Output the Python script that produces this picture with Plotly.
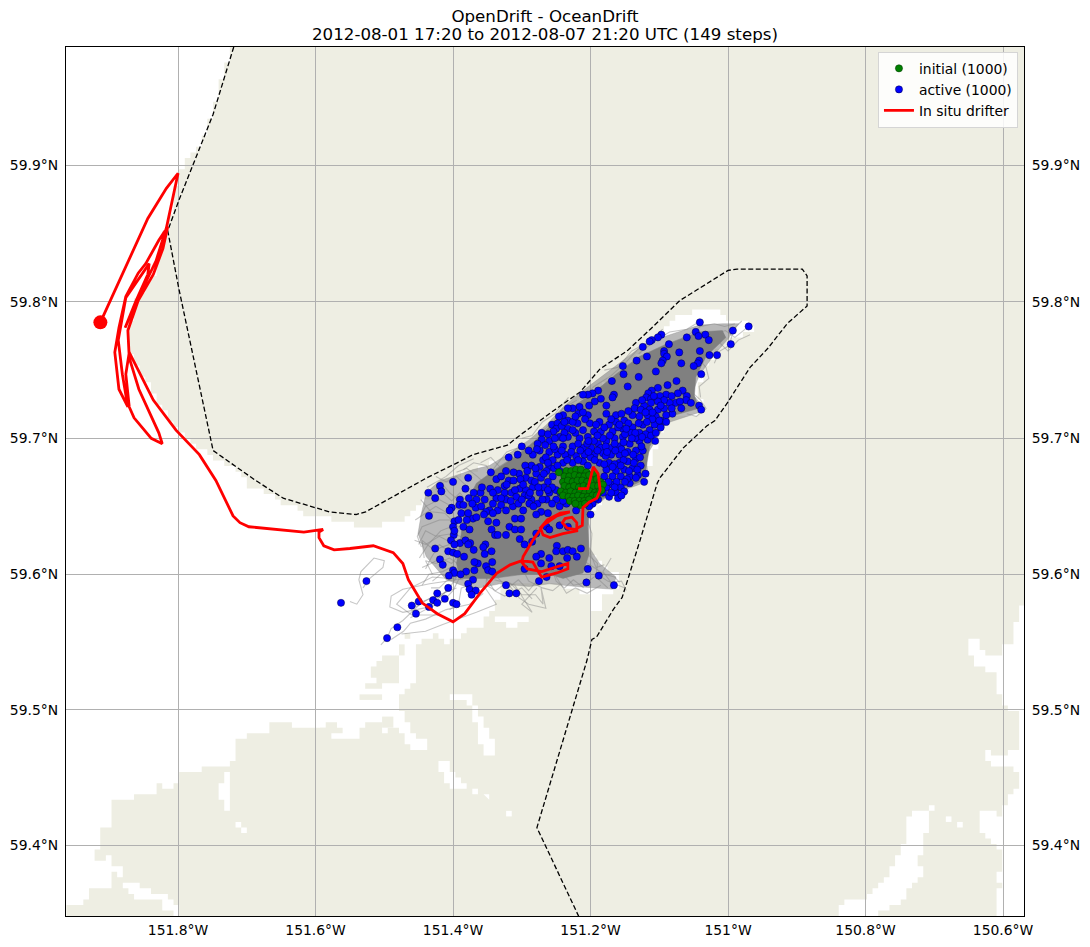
import math
import plotly.graph_objects as go

TITLE_LINE_1 = "OpenDrift - OceanDrift"
TITLE_LINE_2 = "2012-08-01 17:20 to 2012-08-07 21:20 UTC (149 steps)"
lon_ticks = [-151.8, -151.6, -151.4, -151.2, -151.0, -150.8, -150.6]
lon_labels = ["151.8°W", "151.6°W", "151.4°W", "151.2°W", "151°W", "150.8°W", "150.6°W"]
lat_ticks = [59.4, 59.5, 59.6, 59.7, 59.8, 59.9]
lat_labels = ["59.4°N", "59.5°N", "59.6°N", "59.7°N", "59.8°N", "59.9°N"]
lon_range = [-151.963, -150.5695]
lat_range = [59.3475, 59.986]

land_outline = [(-151.721,59.986),(-151.746,59.943),(-151.762,59.918),(-151.788,59.900),(-151.799,59.894),(-151.807,59.869),(-151.817,59.852),(-151.835,59.820),(-151.858,59.801),(-151.873,59.779),(-151.871,59.762),(-151.835,59.728),(-151.800,59.704),(-151.771,59.693),(-151.759,59.689),(-151.748,59.684),(-151.726,59.679),(-151.705,59.671),(-151.697,59.664),(-151.672,59.660),(-151.647,59.652),(-151.618,59.647),(-151.618,59.642),(-151.575,59.642),(-151.573,59.638),(-151.544,59.638),(-151.544,59.634),(-151.527,59.634),(-151.496,59.638),(-151.467,59.642),(-151.452,59.649),(-151.438,59.657),(-151.415,59.668),(-151.385,59.674),(-151.346,59.682),(-151.321,59.686),(-151.278,59.699),(-151.240,59.718),(-151.201,59.735),(-151.161,59.750),(-151.124,59.764),(-151.113,59.773),(-151.089,59.784),(-151.065,59.791),(-151.048,59.795),(-151.019,59.795),(-151.007,59.788),(-150.994,59.786),(-150.968,59.786),(-150.965,59.779),(-150.978,59.774),(-151.007,59.772),(-151.022,59.759),(-151.036,59.745),(-151.045,59.733),(-151.033,59.719),(-151.089,59.715),(-151.103,59.693),(-151.116,59.674),(-151.124,59.667),(-151.172,59.657),(-151.198,59.645),(-151.202,59.620),(-151.189,59.608),(-151.161,59.597),(-151.161,59.588),(-151.186,59.583),(-151.186,59.574),(-151.196,59.568),(-151.201,59.586),(-151.244,59.594),(-151.336,59.593),(-151.332,59.581),(-151.348,59.568),(-151.356,59.560),(-151.377,59.560),(-151.396,59.551),(-151.406,59.547),(-151.421,59.556),(-151.440,59.551),(-151.457,59.542),(-151.452,59.525),(-151.469,59.513),(-151.476,59.510),(-151.477,59.499),(-151.455,59.480),(-151.440,59.476),(-151.440,59.472),(-151.452,59.472),(-151.467,59.480),(-151.479,59.485),(-151.491,59.485),(-151.491,59.481),(-151.501,59.481),(-151.501,59.489),(-151.515,59.489),(-151.515,59.493),(-151.527,59.493),(-151.536,59.477),(-151.576,59.477),(-151.577,59.485),(-151.590,59.485),(-151.624,59.485),(-151.637,59.488),(-151.638,59.493),(-151.656,59.493),(-151.671,59.482),(-151.690,59.481),(-151.715,59.476),(-151.715,59.464),(-151.726,59.459),(-151.738,59.458),(-151.752,59.459),(-151.763,59.456),(-151.770,59.451),(-151.787,59.456),(-151.799,59.451),(-151.804,59.443),(-151.818,59.443),(-151.821,59.447),(-151.832,59.447),(-151.835,59.439),(-151.851,59.438),(-151.874,59.434),(-151.894,59.431),(-151.894,59.414),(-151.912,59.410),(-151.913,59.398),(-151.923,59.397),(-151.923,59.389),(-151.901,59.392),(-151.898,59.385),(-151.879,59.384),(-151.878,59.377),(-151.894,59.380),(-151.894,59.368),(-151.928,59.368),(-151.932,59.358),(-151.964,59.356),(-151.964,59.347),(-150.835,59.347),(-150.837,59.356),(-150.832,59.359),(-150.798,59.359),(-150.798,59.364),(-150.784,59.372),(-150.764,59.377),(-150.762,59.385),(-150.747,59.398),(-150.743,59.409),(-150.738,59.422),(-150.731,59.427),(-150.709,59.427),(-150.706,59.431),(-150.701,59.430),(-150.704,59.424),(-150.709,59.420),(-150.705,59.411),(-150.714,59.409),(-150.714,59.393),(-150.723,59.392),(-150.723,59.385),(-150.711,59.384),(-150.714,59.378),(-150.728,59.372),(-150.743,59.367),(-150.745,59.358),(-150.760,59.356),(-150.767,59.351),(-150.774,59.352),(-150.785,59.352),(-150.786,59.347),(-150.612,59.347),(-150.607,59.356),(-150.605,59.372),(-150.613,59.380),(-150.599,59.382),(-150.599,59.392),(-150.609,59.401),(-150.619,59.401),(-150.619,59.406),(-150.629,59.411),(-150.631,59.417),(-150.648,59.417),(-150.634,59.421),(-150.631,59.427),(-150.610,59.427),(-150.610,59.422),(-150.600,59.424),(-150.600,59.431),(-150.592,59.432),(-150.592,59.438),(-150.585,59.440),(-150.580,59.443),(-150.580,59.456),(-150.587,59.459),(-150.612,59.460),(-150.614,59.464),(-150.631,59.464),(-150.626,59.472),(-150.621,59.468),(-150.592,59.468),(-150.592,59.472),(-150.577,59.472),(-150.577,59.498),(-150.585,59.501),(-150.599,59.506),(-150.602,59.510),(-150.610,59.515),(-150.610,59.526),(-150.621,59.526),(-150.624,59.534),(-150.634,59.531),(-150.641,59.535),(-150.643,59.540),(-150.655,59.545),(-150.650,59.551),(-150.641,59.551),(-150.634,59.543),(-150.621,59.540),(-150.601,59.540),(-150.601,59.547),(-150.587,59.547),(-150.587,59.564),(-150.577,59.569),(-150.577,59.576),(-150.5695,59.577),(-150.5695,59.986)]

islands = [
 [(-151.520,59.530),(-151.503,59.540),(-151.479,59.540),(-151.476,59.521),(-151.506,59.520),(-151.506,59.514),(-151.527,59.518),(-151.513,59.524)],
 [(-151.538,59.513),(-151.501,59.513),(-151.501,59.506),(-151.538,59.506)],
 [(-151.501,59.497),(-151.486,59.497),(-151.486,59.488),(-151.501,59.488)],
 [(-151.581,59.493),(-151.566,59.493),(-151.566,59.488),(-151.557,59.488),(-151.557,59.481),(-151.577,59.481),(-151.590,59.485)],
 [(-151.474,59.557),(-151.464,59.557),(-151.464,59.552),(-151.474,59.552)],
 [(-151.481,59.547),(-151.469,59.547),(-151.469,59.540),(-151.481,59.540)],
]
inlets = [
 [(-151.726,59.459),(-151.734,59.447),(-151.741,59.438),(-151.741,59.432),(-151.731,59.427),(-151.724,59.422),(-151.724,59.434),(-151.729,59.443)],
 [(-151.715,59.418),(-151.707,59.418),(-151.702,59.410),(-151.715,59.414)],
 [(-151.878,59.372),(-151.861,59.372),(-151.843,59.364),(-151.818,59.362),(-151.804,59.357),(-151.799,59.348),(-151.804,59.348),(-151.804,59.353),(-151.818,59.353),(-151.821,59.358),(-151.843,59.359),(-151.869,59.364),(-151.879,59.369)],
 [(-151.430,59.513),(-151.389,59.513),(-151.372,59.509),(-151.365,59.498),(-151.343,59.476),(-151.343,59.468),(-151.353,59.468),(-151.365,59.488),(-151.372,59.503),(-151.387,59.509),(-151.430,59.510)],
 [(-151.428,59.464),(-151.406,59.464),(-151.396,59.448),(-151.377,59.447),(-151.377,59.443),(-151.406,59.443),(-151.409,59.451),(-151.421,59.458)],
 [(-151.372,59.443),(-151.360,59.443),(-151.360,59.439),(-151.372,59.439)],
 [(-151.353,59.438),(-151.341,59.432),(-151.348,59.434)],
 [(-151.319,59.426),(-151.315,59.426),(-151.315,59.422),(-151.319,59.422)],
 [(-151.336,59.568),(-151.287,59.568),(-151.287,59.564),(-151.304,59.564),(-151.305,59.561),(-151.319,59.561),(-151.319,59.564),(-151.336,59.564)],
 [(-150.683,59.422),(-150.673,59.422),(-150.673,59.418),(-150.683,59.418)],
 [(-150.664,59.418),(-150.655,59.418),(-150.655,59.414),(-150.664,59.414)],
]

simulation_boundary = [(-151.719,59.986),(-151.749,59.937),(-151.799,59.874),(-151.815,59.852),(-151.799,59.810),(-151.749,59.691),(-151.687,59.669),(-151.647,59.656),(-151.580,59.646),(-151.541,59.644),(-151.527,59.646),(-151.487,59.657),(-151.438,59.671),(-151.394,59.682),(-151.371,59.688),(-151.321,59.695),(-151.298,59.704),(-151.249,59.722),(-151.215,59.734),(-151.186,59.751),(-151.147,59.764),(-151.113,59.780),(-151.070,59.801),(-151.000,59.823),(-150.987,59.824),(-150.892,59.824),(-150.885,59.819),(-150.885,59.797),(-150.914,59.784),(-150.942,59.766),(-150.968,59.752),(-151.001,59.726),(-151.019,59.713),(-151.031,59.709),(-151.065,59.693),(-151.099,59.671),(-151.103,59.667),(-151.128,59.625),(-151.154,59.583),(-151.167,59.574),(-151.191,59.554),(-151.198,59.552),(-151.205,59.537),(-151.278,59.413),(-151.217,59.347)]

plume_fringe = [(-150.984,59.784),(-151.008,59.784),(-151.042,59.783),(-151.090,59.775),(-151.124,59.768),(-151.153,59.757),(-151.182,59.746),(-151.211,59.735),(-151.240,59.723),(-151.264,59.710),(-151.289,59.699),(-151.318,59.689),(-151.347,59.680),(-151.371,59.677),(-151.400,59.672),(-151.419,59.669),(-151.439,59.660),(-151.446,59.645),(-151.451,59.630),(-151.439,59.613),(-151.422,59.603),(-151.410,59.596),(-151.371,59.589),(-151.332,59.593),(-151.289,59.591),(-151.260,59.593),(-151.221,59.591),(-151.168,59.589),(-151.163,59.598),(-151.187,59.608),(-151.202,59.620),(-151.202,59.647),(-151.173,59.658),(-151.124,59.667),(-151.117,59.674),(-151.119,59.687),(-151.090,59.711),(-151.042,59.719),(-151.037,59.723),(-151.052,59.733),(-151.042,59.746),(-151.022,59.760),(-150.998,59.774)]

plume_core = [(-151.008,59.779),(-151.042,59.778),(-151.090,59.769),(-151.129,59.760),(-151.163,59.747),(-151.192,59.735),(-151.226,59.723),(-151.255,59.711),(-151.279,59.699),(-151.308,59.687),(-151.347,59.674),(-151.366,59.667),(-151.383,59.650),(-151.388,59.630),(-151.395,59.608),(-151.390,59.597),(-151.342,59.597),(-151.298,59.600),(-151.260,59.600),(-151.240,59.597),(-151.211,59.601),(-151.202,59.615),(-151.204,59.635),(-151.202,59.650),(-151.177,59.657),(-151.124,59.669),(-151.119,59.679),(-151.114,59.694),(-151.085,59.716),(-151.042,59.722),(-151.049,59.731),(-151.047,59.745),(-151.032,59.760),(-151.003,59.774)]

trails = [
 [(-151.550,59.580),(-151.540,59.578),(-151.531,59.585),(-151.537,59.596),(-151.534,59.602),(-151.515,59.612),(-151.500,59.610),(-151.502,59.605),(-151.521,59.597),(-151.531,59.590)],
 [(-151.395,59.596),(-151.434,59.593),(-151.473,59.589),(-151.490,59.584),(-151.492,59.576),(-151.473,59.572),(-151.434,59.576),(-151.405,59.590)],
 [(-151.395,59.590),(-151.444,59.580),(-151.473,59.566),(-151.490,59.560),(-151.496,59.553),(-151.505,59.548)],
 [(-151.356,59.586),(-151.376,59.578),(-151.410,59.574),(-151.440,59.567),(-151.462,59.564),(-151.472,59.558),(-151.490,59.552)],
 [(-151.356,59.592),(-151.337,59.578),(-151.366,59.572),(-151.400,59.566),(-151.415,59.563),(-151.440,59.558),(-151.475,59.556)],
 [(-151.385,59.596),(-151.430,59.598),(-151.462,59.590),(-151.482,59.578),(-151.460,59.570),(-151.420,59.570)],
 [(-151.318,59.594),(-151.300,59.585),(-151.280,59.585),(-151.269,59.578),(-151.272,59.590),(-151.265,59.575),(-151.290,59.578),(-151.305,59.583)],
 [(-151.340,59.596),(-151.310,59.592),(-151.295,59.580),(-151.285,59.572),(-151.300,59.578),(-151.278,59.590)],
 [(-151.240,59.600),(-151.225,59.592),(-151.205,59.594),(-151.190,59.600),(-151.175,59.595),(-151.160,59.592),(-151.150,59.590)],
 [(-151.210,59.610),(-151.195,59.605),(-151.180,59.600),(-151.165,59.598),(-151.158,59.594)],
 [(-151.205,59.615),(-151.190,59.608),(-151.192,59.598),(-151.175,59.590)],
 [(-151.260,59.610),(-151.250,59.595),(-151.238,59.590),(-151.225,59.596),(-151.210,59.590)],
 [(-151.300,59.605),(-151.290,59.595),(-151.270,59.590),(-151.255,59.588),(-151.245,59.592)],
 [(-151.340,59.600),(-151.320,59.590),(-151.305,59.596),(-151.290,59.588),(-151.280,59.594)],
 [(-151.360,59.640),(-151.385,59.652),(-151.405,59.660),(-151.418,59.668),(-151.425,59.662)],
 [(-151.360,59.655),(-151.380,59.665),(-151.395,59.672),(-151.410,59.668),(-151.425,59.672)],
 [(-151.350,59.665),(-151.365,59.672),(-151.380,59.678),(-151.395,59.675)],
 [(-151.340,59.670),(-151.352,59.680),(-151.370,59.682),(-151.385,59.677)],
 [(-151.330,59.678),(-151.345,59.686),(-151.360,59.682)],
 [(-151.370,59.645),(-151.395,59.648),(-151.420,59.655),(-151.440,59.650),(-151.448,59.642)],
 [(-151.370,59.635),(-151.395,59.640),(-151.420,59.640),(-151.445,59.635),(-151.452,59.628),(-151.446,59.620)],
 [(-151.375,59.625),(-151.400,59.630),(-151.425,59.628),(-151.440,59.632),(-151.450,59.622)],
 [(-151.380,59.615),(-151.405,59.622),(-151.428,59.618),(-151.445,59.625),(-151.442,59.612)],
 [(-151.385,59.605),(-151.405,59.612),(-151.425,59.608),(-151.440,59.610),(-151.430,59.600)],
 [(-151.385,59.600),(-151.400,59.606),(-151.415,59.602),(-151.435,59.600),(-151.445,59.592)],
 [(-151.375,59.640),(-151.392,59.635),(-151.412,59.645),(-151.432,59.646),(-151.447,59.655)],
 [(-151.378,59.630),(-151.398,59.636),(-151.418,59.632),(-151.436,59.622),(-151.449,59.612)],
 [(-151.382,59.620),(-151.400,59.615),(-151.420,59.622),(-151.432,59.612),(-151.440,59.604)],
 [(-151.375,59.650),(-151.390,59.660),(-151.402,59.654),(-151.415,59.660),(-151.432,59.658)],
 [(-151.385,59.610),(-151.395,59.598),(-151.410,59.595),(-151.420,59.590),(-151.432,59.590)],
 [(-151.395,59.598),(-151.405,59.590),(-151.420,59.583),(-151.435,59.582),(-151.455,59.576)],
 [(-151.390,59.598),(-151.400,59.588),(-151.415,59.580),(-151.440,59.574),(-151.462,59.568)],
 [(-151.365,59.605),(-151.375,59.592),(-151.388,59.590),(-151.392,59.578),(-151.405,59.574)],
 [(-151.350,59.605),(-151.352,59.592),(-151.338,59.588),(-151.322,59.594),(-151.312,59.588)],
 [(-151.315,59.685),(-151.330,59.680),(-151.345,59.675),(-151.322,59.690),(-151.300,59.694)],
 [(-151.285,59.695),(-151.270,59.705),(-151.255,59.712),(-151.240,59.722),(-151.220,59.728)],
 [(-151.215,59.728),(-151.195,59.738),(-151.170,59.746),(-151.150,59.755),(-151.130,59.766)],
 [(-151.130,59.762),(-151.105,59.772),(-151.085,59.778),(-151.060,59.780),(-151.040,59.786)],
 [(-151.060,59.775),(-151.040,59.782),(-151.020,59.784),(-151.005,59.782),(-150.990,59.784)],
 [(-151.040,59.770),(-151.020,59.776),(-151.004,59.779),(-150.990,59.774),(-150.975,59.780)],
 [(-151.030,59.765),(-151.012,59.770),(-151.000,59.764),(-150.985,59.772),(-150.968,59.776)],
 [(-151.045,59.760),(-151.032,59.752),(-151.028,59.744),(-151.042,59.738),(-151.040,59.730)],
 [(-151.055,59.735),(-151.040,59.728),(-151.032,59.722),(-151.046,59.716),(-151.060,59.718)],
 [(-151.205,59.640),(-151.198,59.630),(-151.200,59.615),(-151.192,59.605),(-151.180,59.607)],
 [(-151.170,59.612),(-151.182,59.602),(-151.170,59.594),(-151.155,59.595),(-151.148,59.588)],
 [(-151.250,59.598),(-151.235,59.586),(-151.222,59.590),(-151.205,59.586),(-151.185,59.592)],
 [(-151.355,59.600),(-151.340,59.588),(-151.325,59.584),(-151.300,59.590),(-151.285,59.582)],
 [(-151.438,59.664),(-151.425,59.668),(-151.410,59.672),(-151.392,59.680),(-151.370,59.685)],
 [(-151.455,59.640),(-151.440,59.645),(-151.425,59.650),(-151.408,59.645),(-151.392,59.650)],
 [(-151.456,59.625),(-151.440,59.622),(-151.420,59.628),(-151.405,59.624),(-151.390,59.626)],
 [(-151.445,59.605),(-151.432,59.608),(-151.418,59.612),(-151.402,59.608),(-151.392,59.614)],
 [(-151.430,59.595),(-151.418,59.600),(-151.405,59.598),(-151.395,59.603)],
 [(-151.300,59.700),(-151.285,59.702),(-151.270,59.712),(-151.252,59.718),(-151.232,59.730)],
 [(-151.180,59.750),(-151.160,59.752),(-151.140,59.764),(-151.118,59.770),(-151.095,59.780)],
 [(-151.020,59.755),(-151.012,59.764),(-150.998,59.768),(-150.992,59.780),(-150.980,59.786)],
]

active_points = [(-151.041,59.785),(-150.970,59.782),(-150.993,59.779),(-151.047,59.778),(-151.033,59.776),(-151.043,59.775),(-151.028,59.772),(-151.060,59.774),(-151.097,59.776),(-151.102,59.774),(-151.111,59.772),(-151.114,59.771),(-151.086,59.769),(-151.124,59.767),(-150.996,59.769),(-151.041,59.764),(-151.093,59.764),(-151.071,59.763),(-151.093,59.762),(-151.016,59.761),(-151.027,59.761),(-151.089,59.760),(-151.118,59.760),(-151.133,59.757),(-151.095,59.757),(-151.097,59.755),(-151.042,59.757),(-151.044,59.755),(-151.068,59.755),(-151.050,59.753),(-151.153,59.753),(-151.105,59.749),(-151.039,59.747),(-151.152,59.747),(-151.130,59.745),(-151.169,59.742),(-151.075,59.742),(-151.088,59.739),(-151.146,59.738),
(-151.102,59.737),(-151.111,59.735),(-151.116,59.733),(-151.066,59.735),(-151.073,59.733),(-151.060,59.731),(-151.090,59.732),(-151.099,59.731),(-151.119,59.730),(-151.112,59.729),(-151.061,59.728),(-151.054,59.726),(-151.042,59.724),(-151.039,59.721),(-151.076,59.726),(-151.085,59.726),(-151.093,59.728),(-151.102,59.727),(-151.112,59.726),(-151.122,59.724),(-151.134,59.726),(-151.136,59.722),(-151.127,59.721),(-151.114,59.721),(-151.102,59.721),(-151.093,59.722),(-151.081,59.718),(-151.090,59.717),(-151.105,59.716),(-151.117,59.717),(-151.129,59.716),(-151.139,59.717),(-151.151,59.713),(-151.163,59.717),(-151.177,59.718),(-151.177,59.724),(-151.166,59.732),(-151.168,59.730),(-151.189,59.735),(-151.197,59.733),(-151.204,59.732),(-151.211,59.732),(-151.185,59.729),(-151.194,59.727),(-151.202,59.724),(-151.216,59.723),(-151.226,59.722),(-151.233,59.722),(-151.218,59.718),(-151.204,59.717),(-151.211,59.719),(-151.240,59.717),(-151.246,59.716),(-151.256,59.710),(-151.248,59.711),(-151.233,59.713),(-151.219,59.711),(-151.201,59.711),(-151.187,59.712),(-151.163,59.712),(-151.173,59.710),(-151.250,59.707),(-151.254,59.705),(-151.233,59.707),(-151.211,59.706),(-151.195,59.705),(-151.185,59.705),(-151.168,59.705),(-151.153,59.707),(-151.139,59.708),(-151.124,59.710),(-151.107,59.710),(-151.098,59.708),(-151.114,59.706),(-151.129,59.704),(-151.141,59.704),(-151.153,59.701),(-151.165,59.700),(-151.177,59.698),(-151.189,59.696),(-151.204,59.701),(-151.216,59.700),(-151.233,59.701),(-151.245,59.701),(-151.271,59.704),(-151.260,59.698),(-151.271,59.699),(-151.277,59.696),(-151.240,59.694),(-151.226,59.694),(-151.211,59.693),(-151.199,59.693),(-151.185,59.693),(-151.170,59.693),(-151.158,59.694),(-151.143,59.696),(-151.129,59.698),(-151.117,59.699),(-151.106,59.698),(-151.134,59.691),(-151.124,59.691),(-151.146,59.690),(-151.158,59.688),(-151.170,59.688),(-151.182,59.689),(-151.194,59.688),(-151.209,59.688),(-151.221,59.687),(-151.233,59.687),(-151.248,59.688),(-151.260,59.690),(-151.274,59.691),(-151.284,59.688),(-151.300,59.694),(-151.306,59.688),(-151.319,59.686),(-151.269,59.684),(-151.255,59.684),(-151.240,59.682),(-151.226,59.682),(-151.211,59.683),(-151.187,59.682),(-151.173,59.682),(-151.158,59.682),(-151.146,59.683),(-151.134,59.685),(-151.127,59.680),(-151.139,59.678),(-151.151,59.677),(-151.163,59.676),(-151.177,59.677),(-151.180,59.672),(-151.168,59.672),(-151.156,59.672),(-151.143,59.672),(-151.131,59.673),(-151.120,59.674),(-151.122,59.668),(-151.134,59.671),(-151.143,59.667),(-151.156,59.664),(-151.168,59.666),(-151.177,59.664),(-151.163,59.660),(-151.151,59.661),(-151.173,59.657),(-151.160,59.656),(-151.189,59.655),(-151.197,59.652),(-151.202,59.650),(-151.200,59.644),(-151.260,59.679),(-151.274,59.679),(-151.286,59.680),(-151.279,59.674),(-151.264,59.676),(-151.255,59.672),(-151.245,59.676),
(-151.345,59.675),(-151.323,59.676),(-151.304,59.674),(-151.378,59.671),(-151.400,59.668),(-151.419,59.665),(-151.417,59.661),(-151.436,59.660),(-151.426,59.656),(-151.382,59.663),(-151.346,59.663),(-151.319,59.669),(-151.312,59.669),(-151.294,59.671),(-151.286,59.669),(-151.272,59.671),(-151.262,59.668),(-151.337,59.670),(-151.325,59.660),(-151.315,59.660),(-151.303,59.663),(-151.294,59.662),(-151.284,59.664),(-151.274,59.660),(-151.260,59.660),(-151.250,59.662),(-151.337,59.656),(-151.323,59.655),(-151.308,59.657),(-151.296,59.658),(-151.286,59.655),(-151.277,59.652),(-151.264,59.655),(-151.250,59.655),(-151.235,59.652),(-151.366,59.655),(-151.354,59.655),(-151.377,59.656),(-151.390,59.655),(-151.402,59.649),(-151.405,59.647),(-151.391,59.651),(-151.385,59.651),(-151.367,59.649),(-151.359,59.650),(-151.347,59.647),(-151.335,59.647),(-151.323,59.647),(-151.313,59.650),(-151.298,59.647),(-151.289,59.652),(-151.435,59.643),(-151.388,59.645),(-151.371,59.641),(-151.366,59.642),(-151.349,59.639),(-151.337,59.638),(-151.310,59.641),(-151.301,59.641),(-151.272,59.646),(-151.279,59.644),(-151.262,59.645),(-151.245,59.650),(-151.221,59.647),(-151.398,59.639),(-151.400,59.635),(-151.385,59.635),(-151.376,59.633),(-151.344,59.633),(-151.318,59.635),(-151.310,59.633),(-151.301,59.633),(-151.339,59.629),(-151.323,59.629),(-151.335,59.629),(-151.399,59.629),(-151.264,59.635),(-151.245,59.636),(-151.233,59.635),(-151.260,59.633),(-151.279,59.630),(-151.303,59.626),(-151.296,59.622),(-151.285,59.624),(-151.403,59.625),(-151.390,59.623),(-151.382,59.625),(-151.375,59.623),(-151.378,59.622),(-151.398,59.622),(-151.353,59.622),(-151.356,59.620),(-151.426,59.619),(-151.407,59.617),(-151.400,59.616),(-151.394,59.615),(-151.370,59.618),(-151.354,59.615),(-151.344,59.617),(-151.249,59.621),(-151.250,59.617),(-151.240,59.617),(-151.233,59.618),(-151.226,59.617),(-151.214,59.619),(-151.220,59.613),(-151.234,59.612),(-151.260,59.612),(-151.272,59.615),(-151.279,59.613),(-151.272,59.608),(-151.257,59.606),(-151.245,59.606),(-151.419,59.611),(-151.384,59.613),(-151.415,59.607),(-151.364,59.608),(-151.369,59.609),(-151.343,59.609),(-151.352,59.606),(-151.349,59.603),(-151.369,59.603),(-151.381,59.602),(-151.400,59.603),(-151.398,59.601),(-151.389,59.600),(-151.406,59.599),(-151.343,59.602),(-151.296,59.604),(-151.204,59.604),(-151.188,59.599),(-151.206,59.594),(-151.166,59.592),(-151.275,59.595),(-151.264,59.598),(-151.371,59.596),(-151.378,59.593),(-151.407,59.590),(-151.323,59.592),(-151.376,59.589),(-151.367,59.588),(-151.373,59.585),(-151.423,59.586),(-151.318,59.586),(-151.308,59.586),(-151.412,59.582),(-151.429,59.581),(-151.423,59.579),(-151.450,59.580),(-151.460,59.577),(-151.435,59.576),(-151.400,59.579),(-151.395,59.578),(-151.454,59.571),(-151.481,59.561),(-151.496,59.553),(-151.526,59.595),(-151.563,59.579),
(-151.150,59.703),(-151.135,59.700),(-151.120,59.703),(-151.110,59.714),(-151.098,59.713),(-151.145,59.711),(-151.160,59.708),(-151.172,59.702),(-151.182,59.700),(-151.195,59.698),(-151.205,59.696),(-151.222,59.704),(-151.238,59.704),(-151.226,59.712),(-151.242,59.709),(-151.252,59.692),(-151.265,59.686),(-151.253,59.678),(-151.237,59.688),(-151.200,59.686),(-151.178,59.687),(-151.165,59.681),(-151.155,59.692),(-151.137,59.682),(-151.147,59.670),(-151.162,59.668),(-151.174,59.668),(-151.152,59.684),(-151.295,59.680),(-151.281,59.668),(-151.268,59.664),(-151.256,59.664),(-151.290,59.658),(-151.305,59.652),(-151.330,59.651),(-151.342,59.652),(-151.352,59.646),(-151.360,59.660),(-151.370,59.660),(-151.325,59.665),(-151.335,59.662),
(-151.125,59.728),(-151.108,59.731),(-151.082,59.731),(-151.070,59.727),(-151.068,59.722),(-151.082,59.722),(-151.098,59.724),(-151.110,59.719),(-151.120,59.719),(-151.130,59.711),(-151.118,59.712),(-151.100,59.713),(-151.090,59.712),(-151.145,59.720),(-151.155,59.718),(-151.170,59.714),(-151.158,59.710),(-151.148,59.707),(-151.135,59.704),(-151.125,59.701),(-151.112,59.702),(-151.105,59.704),(-151.180,59.708),(-151.192,59.710),(-151.208,59.714),(-151.222,59.716),(-151.238,59.712),(-151.226,59.706),(-151.240,59.700),(-151.252,59.700),(-151.262,59.703),(-151.218,59.696),(-151.203,59.698),(-151.190,59.702),(-151.178,59.694),(-151.165,59.696),(-151.152,59.697),(-151.140,59.700),(-151.126,59.694),(-151.150,59.689),(-151.138,59.688),(-151.128,59.686),(-151.164,59.691),(-151.176,59.690),(-151.190,59.691),(-151.203,59.690),(-151.215,59.691),(-151.228,59.690),(-151.242,59.691),(-151.254,59.694),(-151.266,59.695),(-151.278,59.692),(-151.290,59.691),(-151.262,59.682),(-151.248,59.680),(-151.234,59.684),(-151.218,59.684),(-151.204,59.680),(-151.194,59.684),(-151.180,59.681),(-151.168,59.679),(-151.156,59.680),(-151.144,59.676),(-151.132,59.677),(-151.150,59.668),(-151.165,59.664),(-151.170,59.660),(-151.155,59.658),(-151.182,59.660),(-151.193,59.656),(-151.268,59.674),(-151.280,59.678),(-151.292,59.676),(-151.302,59.670),(-151.312,59.675),(-151.330,59.672),(-151.322,59.666),(-151.310,59.662),(-151.298,59.666),(-151.288,59.660),(-151.276,59.664),(-151.262,59.662),(-151.244,59.660),(-151.240,59.654),(-151.256,59.652),(-151.270,59.655),(-151.283,59.650),(-151.300,59.655),(-151.316,59.654),(-151.330,59.656),(-151.342,59.660),(-151.358,59.664),(-151.372,59.652),(-151.355,59.644),(-151.342,59.645),(-151.378,59.645),(-151.380,59.640),(-151.392,59.640),(-151.398,59.632)]

initial_points = [(-151.246,59.675),(-151.235,59.676),(-151.228,59.676),(-151.221,59.677),(-151.214,59.677),(-151.206,59.675),
(-151.238,59.672),(-151.231,59.672),(-151.223,59.673),(-151.216,59.672),(-151.209,59.672),(-151.202,59.673),(-151.194,59.674),
(-151.240,59.668),(-151.233,59.669),(-151.226,59.668),(-151.219,59.669),(-151.212,59.669),(-151.205,59.668),(-151.198,59.669),(-151.191,59.670),(-151.186,59.668),
(-151.238,59.665),(-151.231,59.664),(-151.224,59.665),(-151.217,59.664),(-151.210,59.665),(-151.203,59.664),(-151.196,59.665),(-151.189,59.665),(-151.182,59.666),
(-151.243,59.661),(-151.236,59.660),(-151.229,59.661),(-151.222,59.660),(-151.215,59.661),(-151.208,59.660),(-151.201,59.661),(-151.194,59.660),(-151.187,59.661),(-151.184,59.662),
(-151.240,59.658),(-151.232,59.657),(-151.225,59.657),(-151.218,59.658),(-151.211,59.657),(-151.204,59.657),(-151.197,59.658),(-151.191,59.658),
(-151.230,59.654),(-151.223,59.654),(-151.216,59.654),(-151.209,59.654),(-151.202,59.655),(-151.215,59.651),(-151.222,59.652),(-151.208,59.652)]

drifter_lon = [-151.218,-151.204,-151.196,-151.189,-151.186,-151.191,-151.202,-151.211,-151.212,-151.223,-151.234,-151.241,-151.237,-151.227,-151.220,-151.220,-151.240,-151.259,-151.269,-151.273,-151.263,-151.244,-151.230,-151.249,-151.269,-151.284,-151.298,-151.300,-151.292,-151.278,-151.271,-151.233,-151.233,-151.249,-151.271,-151.275,-151.284,-151.300,-151.317,-151.336,-151.361,-151.383,-151.400,-151.423,-151.445,-151.465,-151.473,-151.487,-151.516,-151.550,-151.573,-151.588,-151.595,-151.595,-151.589,-151.617,-151.697,-151.710,-151.720,-151.745,-151.769,-151.803,-151.836,-151.871,-151.876,-151.871,-151.864,-151.839,-151.823,-151.828,-151.857,-151.871,-151.873,-151.858,-151.836,-151.822,-151.815,-151.828,-151.847,-151.858,-151.876,-151.886,-151.892,-151.886,-151.873,-151.881,-151.887,-151.876,-151.842,-151.844,-151.861,-151.877,-151.858,-151.832,-151.817,-151.800,-151.817,-151.844,-151.890,-151.913]
drifter_lat = [59.663,59.663,59.679,59.674,59.662,59.656,59.653,59.649,59.636,59.633,59.634,59.638,59.641,59.642,59.638,59.632,59.630,59.627,59.629,59.634,59.640,59.645,59.646,59.643,59.636,59.625,59.613,59.609,59.604,59.603,59.602,59.608,59.604,59.601,59.598,59.601,59.609,59.610,59.607,59.601,59.586,59.571,59.565,59.571,59.579,59.596,59.608,59.616,59.621,59.619,59.618,59.621,59.627,59.631,59.633,59.631,59.635,59.638,59.643,59.669,59.688,59.706,59.728,59.763,59.747,59.723,59.715,59.700,59.696,59.704,59.736,59.759,59.779,59.801,59.820,59.839,59.855,59.845,59.828,59.821,59.804,59.781,59.763,59.736,59.723,59.747,59.772,59.803,59.828,59.820,59.801,59.781,59.803,59.830,59.854,59.894,59.883,59.861,59.810,59.785]

MASK_CELL_LON = 0.0082
MASK_CELL_LAT = 0.0041


def merc(lat):
    return math.degrees(math.log(math.tan(math.pi / 4 + math.radians(lat) / 2)))


def xs(points):
    return [p[0] for p in points]


def ys(points):
    return [merc(p[1]) for p in points]


def path(points):
    return "M" + "L".join(f"{p[0]},{merc(p[1])}" for p in points) + "Z"


def raster_edge(points):
    # The land mask of the source map is a raster: its coastline steps from cell to cell.
    out = []
    n = len(points)
    for i in range(n):
        a, b = points[i], points[(i + 1) % n]
        steps = max(1, int(max(abs(b[0] - a[0]) / MASK_CELL_LON, abs(b[1] - a[1]) / MASK_CELL_LAT)) + 1)
        for k in range(steps):
            t = k / steps
            lon = a[0] + (b[0] - a[0]) * t
            lat = a[1] + (b[1] - a[1]) * t
            lon = round(lon / MASK_CELL_LON) * MASK_CELL_LON
            lat = round(lat / MASK_CELL_LAT) * MASK_CELL_LAT
            if out and out[-1] != (lon, lat):
                out.append((lon, out[-1][1]))
            if not out or out[-1] != (lon, lat):
                out.append((lon, lat))
    return out


LAND = "#eeeee3"
shapes = [dict(type="path", path=path(raster_edge(land_outline)), fillcolor=LAND, line_width=0, layer="below")]
shapes += [dict(type="path", path=path(raster_edge(p)), fillcolor=LAND, line_width=0, layer="below") for p in islands]
shapes += [dict(type="path", path=path(raster_edge(p)), fillcolor="white", line_width=0, layer="below") for p in inlets]

trail_x, trail_y = [], []
for t in trails:
    trail_x += xs(t) + [None]
    trail_y += ys(t) + [None]

y_range = [merc(lat_range[0]), merc(lat_range[1])]
y_ticks = [merc(v) for v in lat_ticks]
FONT = "DejaVu Sans"

fig = go.Figure()
fig.add_trace(go.Scatter(x=xs(simulation_boundary), y=ys(simulation_boundary), mode="lines", showlegend=False,
                         line=dict(color="black", width=1.3, dash="5px,2.5px")))
fig.add_trace(go.Scatter(x=xs(plume_fringe), y=ys(plume_fringe), mode="lines", fill="toself", showlegend=False,
                         fillcolor="rgba(128,128,128,0.55)", line=dict(color="rgba(128,128,128,0.3)", width=1)))
fig.add_trace(go.Scatter(x=trail_x, y=trail_y, mode="lines", showlegend=False,
                         line=dict(color="rgba(128,128,128,0.45)", width=1.1)))
fig.add_trace(go.Scatter(x=xs(plume_core), y=ys(plume_core), mode="lines", fill="toself", showlegend=False,
                         fillcolor="rgb(128,128,128)", line=dict(color="rgba(128,128,128,0.5)", width=1)))
fig.add_trace(go.Scatter(x=xs(active_points), y=ys(active_points), mode="markers", name="active (1000)", legendrank=2,
                         marker=dict(color="rgb(0,0,255)", size=7.2, line=dict(color="rgba(0,0,60,0.8)", width=0.6))))
fig.add_trace(go.Scatter(x=xs(initial_points), y=ys(initial_points), mode="markers", name="initial (1000)", legendrank=1,
                         marker=dict(color="rgb(0,128,0)", size=7.2, line=dict(color="rgba(0,50,0,0.8)", width=0.6))))
fig.add_trace(go.Scatter(x=drifter_lon, y=[merc(v) for v in drifter_lat], mode="lines", name="In situ drifter", legendrank=3,
                         line=dict(color="rgb(255,0,0)", width=2.8)))
fig.add_trace(go.Scatter(x=drifter_lon[-1:], y=[merc(drifter_lat[-1])], mode="markers", showlegend=False,
                         marker=dict(color="rgb(255,0,0)", size=14)))
fig.add_trace(go.Scatter(x=[None], y=[None], yaxis="y2", showlegend=False, hoverinfo="skip"))

axis_common = dict(showline=True, linecolor="black", linewidth=1.2, mirror=True, showgrid=True,
                   gridcolor="#b0b0b0", gridwidth=1.2, zeroline=False, ticks="outside",
                   tickcolor="rgba(0,0,0,0)", tickfont=dict(family=FONT, size=13.9, color="black"))
fig.update_layout(
    width=1090, height=947,
    margin=dict(l=66, r=66, t=47, b=31, autoexpand=False),
    paper_bgcolor="white", plot_bgcolor="white",
    font=dict(family=FONT, size=13.9, color="black"),
    title=dict(text=TITLE_LINE_1, x=0.5, xanchor="center", y=0.983, yanchor="middle",
               font=dict(family=FONT, size=16.67, color="black")),
    annotations=[dict(text=TITLE_LINE_2, xref="paper", yref="paper", x=0.4995, y=(916 - 34) / 869, yanchor="middle",
                      xanchor="center", showarrow=False, font=dict(family=FONT, size=16.67, color="black"))],
    xaxis=dict(range=lon_range, tickvals=lon_ticks, ticktext=lon_labels, ticklen=1, **axis_common),
    yaxis=dict(range=y_range, tickvals=y_ticks, ticktext=lat_labels, ticklen=4, **axis_common),
    yaxis2=dict(range=y_range, tickvals=y_ticks, ticktext=lat_labels, overlaying="y", side="right", anchor="x",
                showgrid=False, zeroline=False, ticks="outside", ticklen=4, tickcolor="rgba(0,0,0,0)",
                tickfont=dict(family=FONT, size=13.9, color="black")),
    legend=dict(x=0.9937, y=0.9945, xanchor="right", yanchor="top", bgcolor="rgba(255,255,255,0.85)",
                bordercolor="#d5d5d5", borderwidth=1, font=dict(family=FONT, size=13.9, color="black"),
                tracegroupgap=0),
    shapes=shapes,
    showlegend=True,
)
fig.write_html("out.html", config={"displayModeBar": False}, post_script="document.body.style.margin='0';")
